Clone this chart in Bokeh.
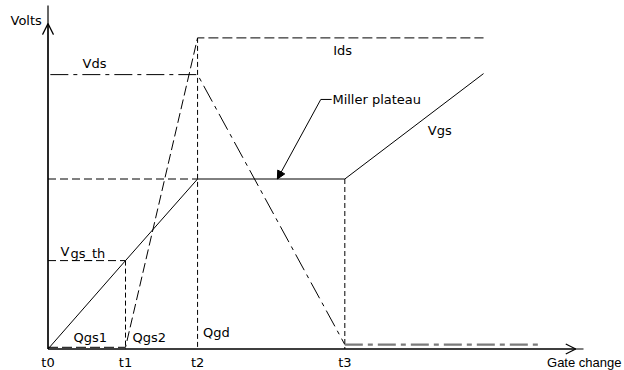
from bokeh.plotting import figure
from bokeh.models import Range1d, Arrow, OpenHead, NormalHead
from bokeh.core.properties import value
from bokeh.embed import file_html
from bokeh.resources import INLINE

# ---- data (charge axis in arbitrary units, voltage axis in arbitrary volts) ----
t_labels = ["t0", "t1", "t2", "t3"]
t_vals = [0.0, 1.0, 1.93, 3.83]
t_end = 5.62
vds_tail_end = 6.33
x_axis_end = 6.91
x_arrow_tip = 6.81
y_axis_end = 10.1
y_arrow_tip = 9.57

vgs_th = 2.6
v_plateau = 5.0
v_ds_off = 8.07
v_ds_on = 0.13
i_ds_on = 9.15
i_ds_off = 0.05
vgs_final = 8.1

vgs_x = [t_vals[0], t_vals[1], t_vals[2], t_vals[3], t_end]
vgs_y = [0.0, vgs_th, v_plateau, v_plateau, vgs_final]
ids_x = [t_vals[0], t_vals[1], t_vals[2], t_end]
ids_y = [i_ds_off, i_ds_off, i_ds_on, i_ds_on]
vds_x = [0.03, t_vals[2], t_vals[3]]
vds_y = [v_ds_off, v_ds_off, v_ds_on]
vds_tail_x = [t_vals[3], vds_tail_end]
vds_tail_y = [v_ds_on, v_ds_on]

FONT = value("DejaVu Sans")

p = figure(width=624, height=370, output_backend="svg", toolbar_location=None,
           x_range=Range1d(-0.613, 7.439), y_range=Range1d(-0.632, 10.25),
           min_border=0)
p.axis.visible = False
p.grid.visible = False
p.outline_line_color = None
p.background_fill_color = "white"
p.border_fill_color = "white"

# axes
p.line([0, x_axis_end], [0, 0], line_color="black", line_width=1.2)
p.line([0, 0], [0, y_axis_end], line_color="black", line_width=1.2)
p.add_layout(Arrow(end=OpenHead(size=10, line_color="black", line_width=1.2),
                   x_start=0, y_start=0, x_end=x_arrow_tip, y_end=0,
                   line_color="black", line_width=1.2))
p.add_layout(Arrow(end=OpenHead(size=11, line_color="black", line_width=1.2),
                   x_start=0, y_start=0, x_end=0, y_end=y_arrow_tip,
                   line_color="black", line_width=1.2))

# guide lines
p.line([0, t_vals[1]], [vgs_th, vgs_th], line_color="black", line_dash="8 4")
p.line([t_vals[1], t_vals[1]], [vgs_th, 0], line_color="black", line_dash="5 3")
p.line([0, t_vals[2]], [v_plateau, v_plateau], line_color="black", line_dash="8 4")
p.line([t_vals[2], t_vals[2]], [i_ds_on, 0], line_color="black", line_dash="5 3")
p.line([t_vals[3], t_vals[3]], [v_plateau, 0], line_color="black", line_dash="5 3")

# curves
p.line(vgs_x, vgs_y, line_color="black", line_width=1)
p.line(ids_x, ids_y, line_color="black", line_width=1, line_dash="10 4")
p.line(vds_x, vds_y, line_color="black", line_width=1, line_dash="18 5 4 5")
p.line(vds_tail_x, vds_tail_y, line_color="#7a7a7a", line_width=2.2, line_dash="18 5 5 5")

# Miller plateau leader
p.line([3.52, 3.66], [7.34, 7.34], line_color="black", line_width=1)
p.add_layout(Arrow(end=NormalHead(size=8, fill_color="black", line_color="black"),
                   x_start=3.52, y_start=7.34, x_end=2.96, y_end=v_plateau,
                   line_color="black", line_width=1))

# texts
lbl_kw = dict(text_font=FONT, text_font_size="13px", text_color="black",
              text_baseline="middle")
p.text(x=[-0.484], y=[9.66], text=["Volts"], text_align="left", **lbl_kw)
p.text(x=[0.445], y=[8.4], text=["Vds"], text_align="left", **lbl_kw)
p.text(x=[3.68], y=[8.78], text=["Ids"], text_align="left", **lbl_kw)
p.text(x=[3.67], y=[7.34], text=["Miller plateau"], text_align="left", **lbl_kw)
p.text(x=[4.9], y=[6.43], text=["Vgs"], text_align="left", **lbl_kw)
p.text(x=[0.16], y=[2.88], text=["V"], text_align="left", **lbl_kw)
p.text(x=[0.29], y=[2.80], text=["gs_th"], text_align="left", **lbl_kw)
p.text(x=[0.33], y=[0.34], text=["Qgs1"], text_align="left", **lbl_kw)
p.text(x=[1.09], y=[0.34], text=["Qgs2"], text_align="left", **lbl_kw)
p.text(x=[2.0], y=[0.49], text=["Qgd"], text_align="left", **lbl_kw)
p.text(x=t_vals, y=[-0.4] * 4, text=t_labels, text_align="center", **lbl_kw)
p.text(x=[7.40], y=[-0.4], text=["Gate change"], text_align="right",
       text_font=value("Liberation Sans"), text_font_size="13px",
       text_color="black", text_baseline="middle")

open("out.html", "w").write(file_html(p, INLINE))
